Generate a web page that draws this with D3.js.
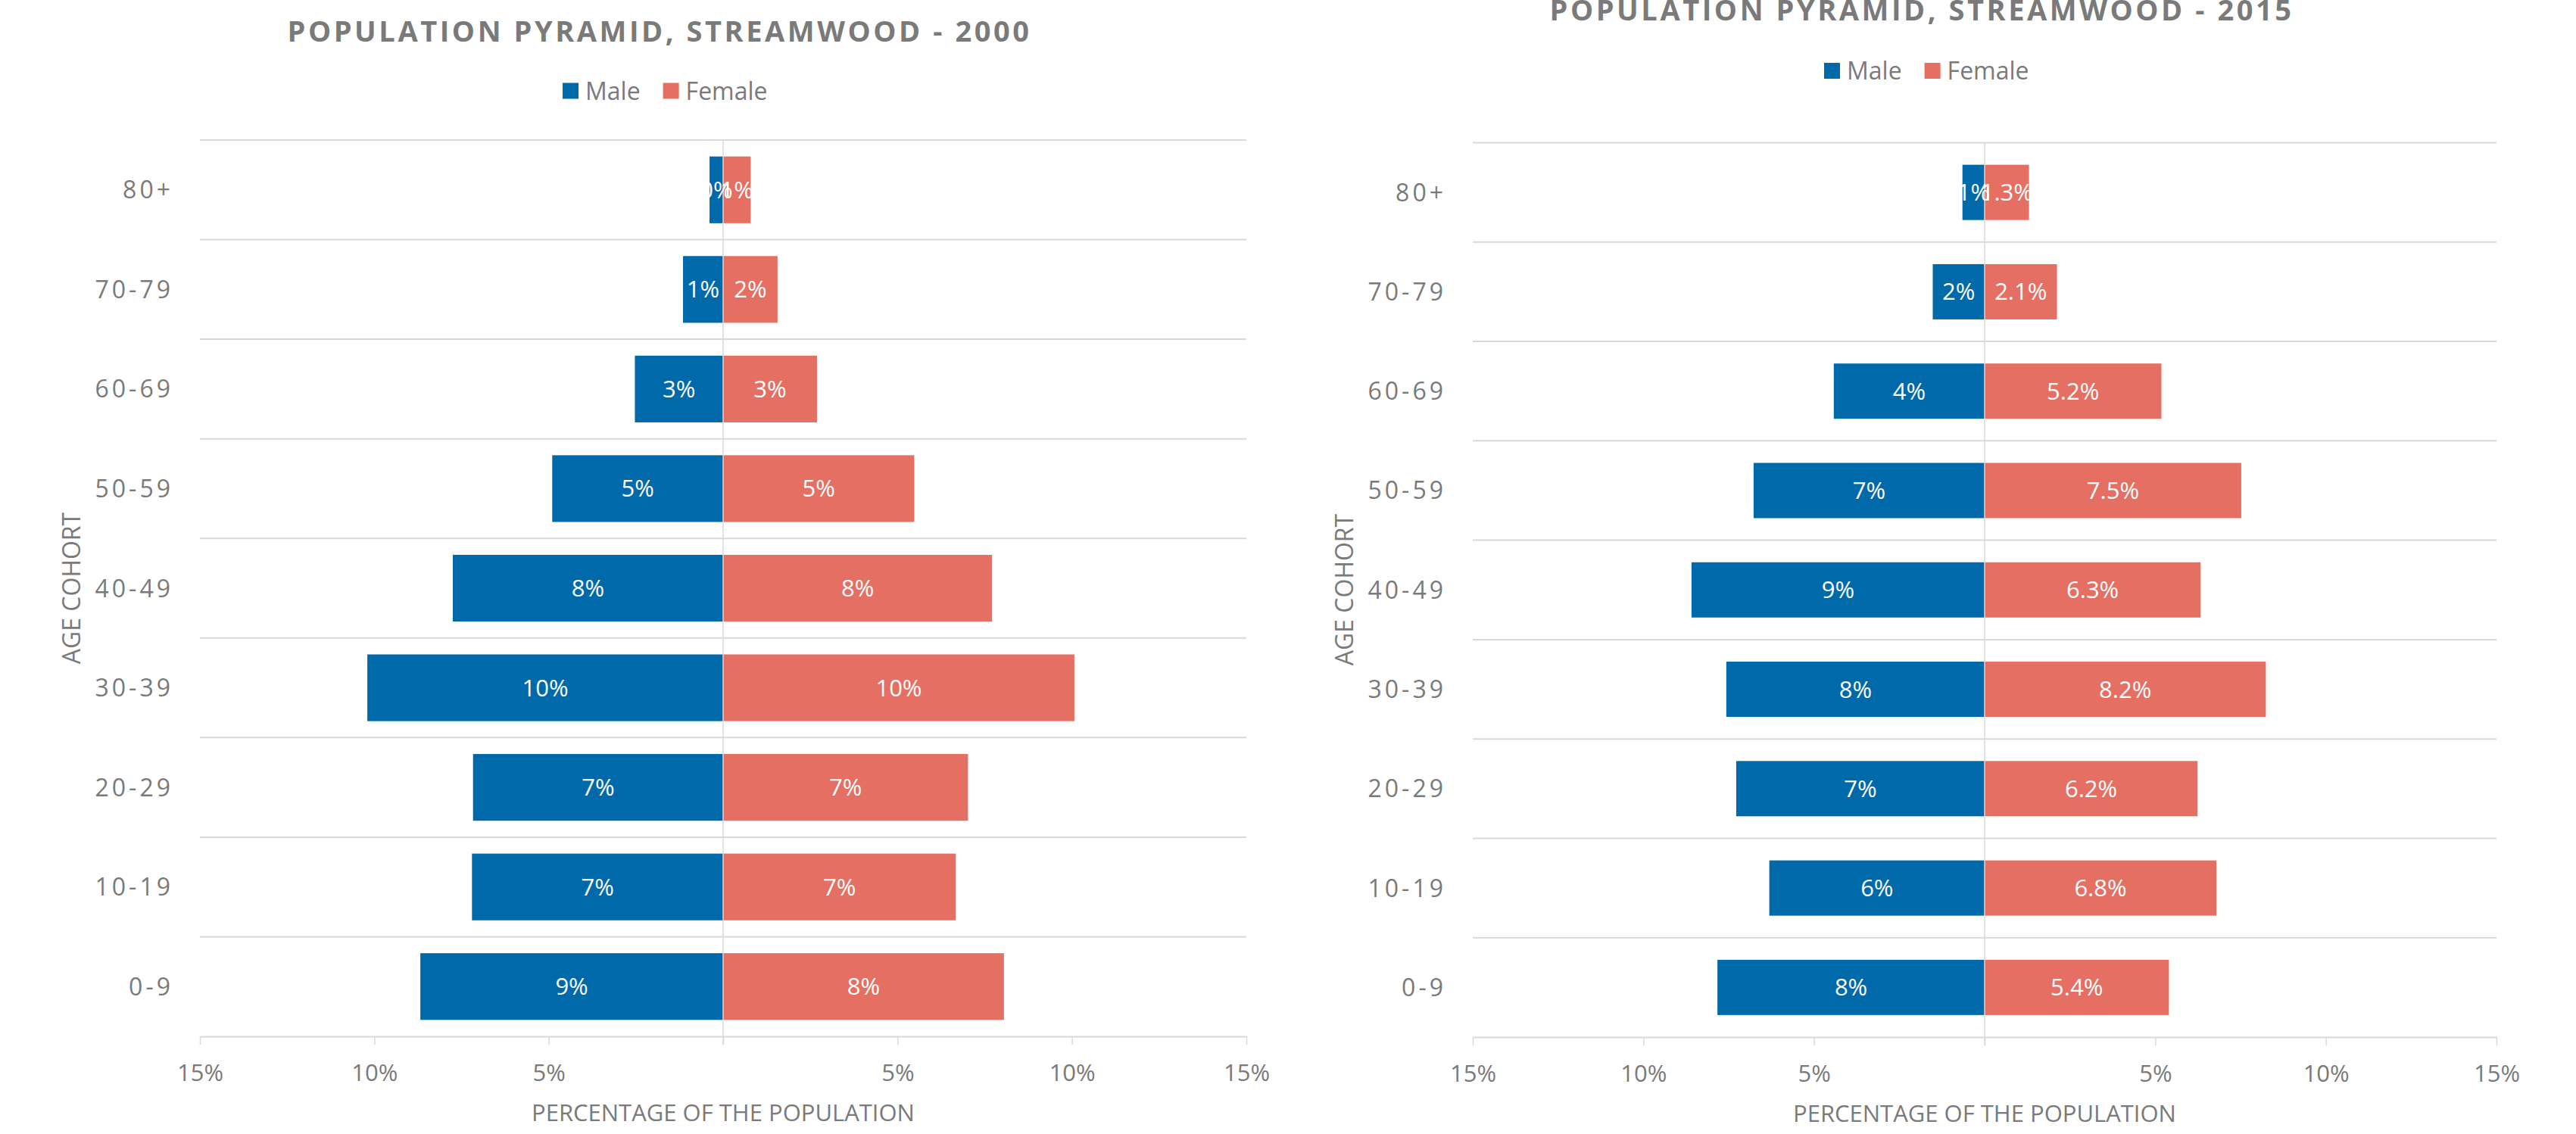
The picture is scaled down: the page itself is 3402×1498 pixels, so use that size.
<!DOCTYPE html>
<html>
<head>
<meta charset="utf-8">
<script src="https://cdn.jsdelivr.net/npm/d3@7"></script>
<style>
  body { margin: 0; background: #fff; }
  text { font-family: "Open Sans", "DejaVu Sans", sans-serif; }
</style>
</head>
<body>
<div id="chart"></div>
<script>
// age cohorts, bottom to top
const ageGroups = ["0-9", "10-19", "20-29", "30-39", "40-49", "50-59", "60-69", "70-79", "80+"];

// share of the population (%), same order as ageGroups
const male2000 = [8.68, 7.20, 7.17, 10.20, 7.75, 4.90, 2.53, 1.15, 0.39];
const female2000 = [8.05, 6.67, 7.02, 10.07, 7.71, 5.48, 2.69, 1.56, 0.79];
const male2015 = [7.83, 6.31, 7.28, 7.57, 8.59, 6.77, 4.42, 1.52, 0.65];
const female2015 = [5.40, 6.79, 6.24, 8.24, 6.33, 7.52, 5.18, 2.12, 1.30];

const tickValues = [-15, -10, -5, 0, 5, 10, 15];
const tickLabels = ["15%", "10%", "5%", "", "5%", "10%", "15%"];
const seriesNames = ["Male", "Female"];
const titles = ["POPULATION PYRAMID, STREAMWOOD - 2000", "POPULATION PYRAMID, STREAMWOOD - 2015"];
const xAxisTitle = "PERCENTAGE OF THE POPULATION";
const yAxisTitle = "AGE COHORT";

const maleColor = "#0069aa", femaleColor = "#e46f62";
const textGray = "#7a7a7a", gridGray = "#d9d9d9";

const svg = d3.select("#chart")
  .append("svg")
  .attr("width", 3402)
  .attr("height", 1498);

function drawPyramid(opt) {
  let g = svg.append("g");

  let x = d3.scaleLinear()
    .domain([-15, 15])
    .range([opt.left, opt.right]);

  let y = d3.scaleBand()
    .domain(ageGroups.slice().reverse())
    .range([opt.top, opt.bottom])
    .paddingInner(opt.pad)
    .paddingOuter(opt.pad / 2);

  // horizontal grid lines between cohorts
  g.selectAll("line.grid")
    .data(d3.range(ageGroups.length))
    .enter()
    .append("line")
    .attr("class", "grid")
    .attr("x1", opt.left)
    .attr("x2", opt.right)
    .attr("y1", function(i) { return opt.top + i * y.step(); })
    .attr("y2", function(i) { return opt.top + i * y.step(); })
    .attr("stroke", gridGray)
    .attr("stroke-width", 2);

  // bottom axis
  let xAxis = g.append("g")
    .attr("transform", `translate(0, ${opt.bottom})`)
    .call(d3.axisBottom(x)
      .tickValues(tickValues)
      .tickSize(11)
      .tickSizeOuter(0)
      .tickFormat(function(d, i) { return tickLabels[i]; }));
  xAxis.select(".domain").attr("stroke", gridGray).attr("stroke-width", 2);
  xAxis.selectAll(".tick line").attr("stroke", gridGray).attr("stroke-width", 1.5);
  xAxis.selectAll(".tick text")
    .attr("y", 59)
    .attr("dy", null)
    .attr("fill", textGray)
    .style("font-size", "31px")
    .style("font-family", "'Open Sans', sans-serif");

  // bars
  let rows = ageGroups.map(function(a, i) {
    return {age: a, male: opt.male[i], female: opt.female[i]};
  });

  g.selectAll("rect.male")
    .data(rows)
    .enter()
    .append("rect")
    .attr("class", "male")
    .attr("x", function(d) { return x(-d.male); })
    .attr("y", function(d) { return y(d.age); })
    .attr("width", function(d) { return x(0) - x(-d.male); })
    .attr("height", y.bandwidth())
    .attr("fill", maleColor);

  g.selectAll("rect.female")
    .data(rows)
    .enter()
    .append("rect")
    .attr("class", "female")
    .attr("x", x(0))
    .attr("y", function(d) { return y(d.age); })
    .attr("width", function(d) { return x(d.female) - x(0); })
    .attr("height", y.bandwidth())
    .attr("fill", femaleColor);

  // centre line
  g.append("line")
    .attr("x1", x(0))
    .attr("x2", x(0))
    .attr("y1", opt.top)
    .attr("y2", opt.bottom + 11)
    .attr("stroke", gridGray)
    .attr("stroke-width", 1.5);

  // data labels
  let maleFmt = d3.format(opt.maleFmt), femaleFmt = d3.format(opt.femaleFmt);
  g.selectAll("text.mlabel")
    .data(rows)
    .enter()
    .append("text")
    .attr("class", "mlabel")
    .attr("x", function(d) { return (x(-d.male) + x(0)) / 2; })
    .attr("y", function(d) { return y(d.age) + y.bandwidth() / 2 + 11; })
    .attr("text-anchor", "middle")
    .attr("fill", "#fff")
    .style("font-size", "31px")
    .text(function(d) { return maleFmt(d.male / 100); });

  g.selectAll("text.flabel")
    .data(rows)
    .enter()
    .append("text")
    .attr("class", "flabel")
    .attr("x", function(d) { return (x(d.female) + x(0)) / 2; })
    .attr("y", function(d) { return y(d.age) + y.bandwidth() / 2 + 11; })
    .attr("text-anchor", "middle")
    .attr("fill", "#fff")
    .style("font-size", "31px")
    .text(function(d) { return femaleFmt(d.female / 100); });

  // category labels
  g.selectAll("text.cat")
    .data(ageGroups)
    .enter()
    .append("text")
    .attr("class", "cat")
    .attr("x", opt.left - 35)
    .attr("y", function(d) { return y(d) + y.bandwidth() / 2 + 11.5; })
    .attr("text-anchor", "end")
    .attr("fill", textGray)
    .style("font-size", "32px")
    .style("letter-spacing", "4px")
    .text(function(d) { return d; });

  // axis titles
  g.append("text")
    .attr("x", x(0))
    .attr("y", opt.bottom + 112)
    .attr("text-anchor", "middle")
    .attr("fill", textGray)
    .style("font-size", "31px")
    .text(xAxisTitle);

  g.append("text")
    .attr("transform", `translate(${opt.yTitleX}, ${opt.yTitleY}) rotate(-90)`)
    .attr("text-anchor", "middle")
    .attr("fill", textGray)
    .style("font-size", "32px")
    .text(yAxisTitle);

  // chart title
  g.append("text")
    .attr("x", opt.titleX)
    .attr("y", opt.titleY)
    .attr("text-anchor", "middle")
    .attr("fill", textGray)
    .style("font-size", "38px")
    .style("font-weight", "bold")
    .style("letter-spacing", "3.55px")
    .text(opt.title);

  // legend
  let lx = opt.legendX;
  [maleColor, femaleColor].forEach(function(c, i) {
    g.append("rect")
      .attr("x", lx)
      .attr("y", opt.legendY - 10.5)
      .attr("width", 21)
      .attr("height", 21)
      .attr("fill", c);
    let t = g.append("text")
      .attr("x", lx + 30)
      .attr("y", opt.legendY + 11.5)
      .attr("fill", textGray)
      .style("font-size", "32px")
      .text(seriesNames[i]);
    lx += 30 + t.node().getComputedTextLength() + 30;
  });
}

drawPyramid({
  title: titles[0], male: male2000, female: female2000,
  maleFmt: ".0%", femaleFmt: ".0%",
  left: 264, right: 1646, top: 185, bottom: 1369, pad: 0.33,
  titleX: 871, titleY: 55, legendX: 743, legendY: 120,
  yTitleX: 106, yTitleY: 777
});

drawPyramid({
  title: titles[1], male: male2015, female: female2015,
  maleFmt: ".0%", femaleFmt: ".1%",
  left: 1945, right: 3297, top: 188.5, bottom: 1370, pad: 0.444,
  titleX: 2538, titleY: 27, legendX: 2409, legendY: 93.5,
  yTitleX: 1787, yTitleY: 779
});
</script>
</body>
</html>
